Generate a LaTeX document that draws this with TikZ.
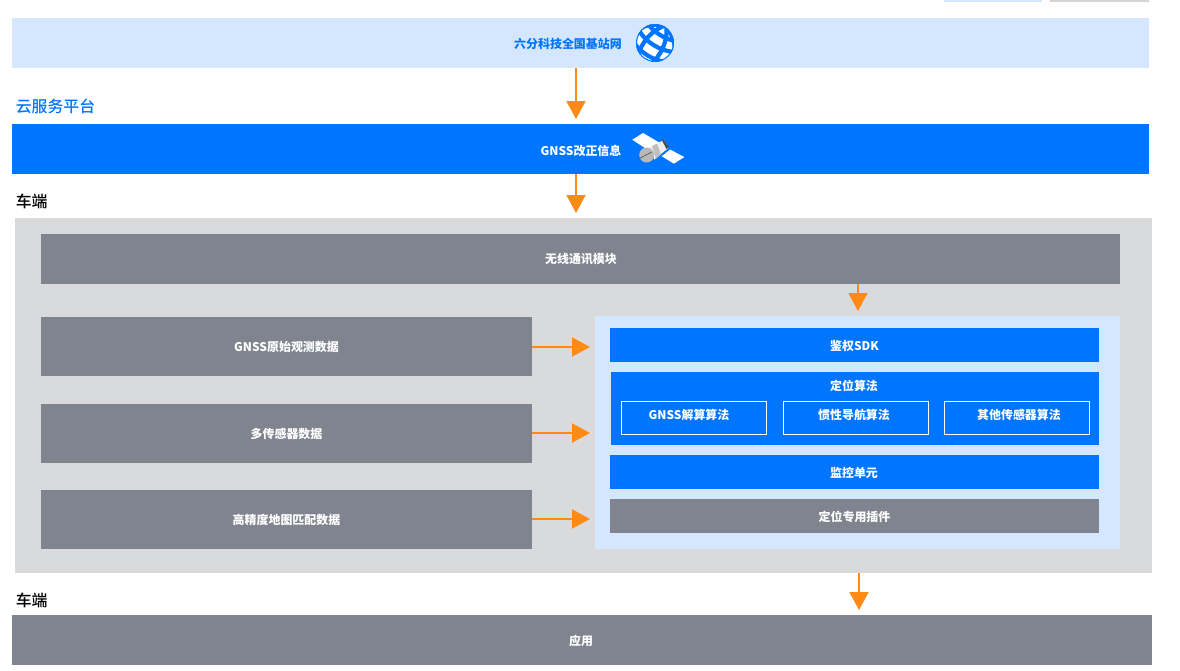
\documentclass[tikz,border=0pt]{standalone}
\usepackage{fontspec}
\setmainfont{Noto Sans CJK SC}
\newfontfamily\headfont{Noto Sans CJK SC Medium}
\usetikzlibrary{arrows.meta}

\definecolor{brandblue}{HTML}{0075FF}
\definecolor{paleblue}{HTML}{D5E7FF}
\definecolor{slategrey}{HTML}{80848E}
\definecolor{panelgrey}{HTML}{D9DADC}
\definecolor{flowline}{HTML}{FF8A14}

\tikzset{
	band/.style={rectangle,inner sep=0pt,text=white,font=\fontsize{8.5pt}{10pt}\selectfont\bfseries},
	boxsize/.style 2 args={minimum width=#1*0.7113pt,minimum height=#2*0.7113pt},
	caption/.style={inner sep=0pt,font=\fontsize{8.5pt}{10pt}\selectfont\bfseries},
	heading/.style={inner sep=0pt,anchor=west,font=\fontsize{11.3pt}{13pt}\headfont},
	subbox/.style={band,draw=white,line width=0.7pt,fill=brandblue,boxsize={145}{33}},
	flow/.style={draw=flowline,line width=1.4pt,-{Triangle[width=13.5pt,length=12.8pt,fill=flowline]}},
	gridline/.style={brandblue,line width=3pt},
}

\begin{document}
\begin{tikzpicture}[x=0.025cm,y=-0.025cm]
	\useasboundingbox (0,0) rectangle (1180,671);
	
	% cut-off boxes at the top edge
	\fill[paleblue] (944,0) rectangle (1042,2);
	\fill[black!17] (1050,0) rectangle (1149,2);
	
	% base stations
	\node[band,fill=paleblue,boxsize={1137}{50}] (net) at (580.5,43) {};
	\node[caption,text=brandblue] (netlabel) at (568,44) {六分科技全国基站网};
	\begin{scope}[shift={(655,43)},rotate=-32]
		\fill[white] (0,0) circle (19);
		\clip (0,0) circle (19);
		\draw[brandblue,line width=1.2pt] (0,0) circle (18.8);
		\draw[gridline] (0,-21) .. controls (-11,-8) and (-11,8) .. (-8,21);
		\draw[gridline] (0,-21) .. controls (11,-8) and (11,8) .. (8,21);
		\draw[gridline] (0,-21) .. controls (-27,-8) and (-27,8) .. (-21,21);
		\draw[gridline] (0,-21) .. controls (27,-8) and (27,8) .. (21,21);
		\draw[gridline] (-20,-14) .. controls (-8,-8) and (8,-8) .. (20,-14);
		\draw[gridline] (-20,-2) .. controls (-8,4) and (8,4) .. (20,-2);
		\draw[gridline] (-20,10) .. controls (-8,16) and (8,16) .. (20,10);
	\end{scope}
	
	% cloud platform
	\node[heading,text=brandblue] (cloudlabel) at (15.5,106) {云服务平台};
	\node[band,fill=brandblue,boxsize={1137}{50}] (gnss) at (580.5,149) {};
	\node[caption,text=white] (gnsslabel) at (581,150.5) {GNSS改正信息};
	
	% satellite
	\fill[white] (632.3,139.7)--(643,133)--(660,143)--(648,150)--cycle;
	\fill[white] (661.7,156.3)--(670,149.5)--(684.3,157)--(674,163.7)--cycle;
	\fill[black!6] (650,147.3)--(664.3,139.7)--(668.3,148)--(654.3,159.7)--cycle;
	\fill[black!70] (662,140.5)--(664,139.5)--(668.5,147)--(666.5,149)--cycle;
	\fill[black!25] (652,146)--(657,143.5)--(661,154.5)--(656,158.5)--cycle;
	\fill[black!28] (646.7,155) circle (7.5);
	\draw[black!65,line width=0.5pt] (639,158.7)--(651.7,152);
	
	% vehicle side
	\node[heading,text=black] (carlabel) at (15.5,201) {车端};
	\node[band,fill=panelgrey,boxsize={1137}{355}] (panel) at (583.5,395.5) {};
	\node[band,fill=slategrey,boxsize={1079}{50}] (radio) at (580.5,259) {};
	\node[caption,text=white] (radiolabel) at (581,259) {无线通讯模块};
	
	% input data
	\node[band,fill=slategrey,boxsize={491}{59}] (raw) at (286.5,346.5) {GNSS原始观测数据};
	\node[band,fill=slategrey,boxsize={491}{59}] (sensor) at (286.5,433.5) {多传感器数据};
	\node[band,fill=slategrey,boxsize={491}{59}] (hdmap) at (286.5,519.5) {高精度地图匹配数据};
	
	% positioning software
	\node[band,fill=paleblue,boxsize={525}{233}] (soft) at (857.5,432.5) {};
	\node[band,fill=brandblue,boxsize={489}{34}] (sdk) at (854.5,345) {};
	\node[caption,text=white] (sdklabel) at (854.5,345.5) {鉴权SDK};
	\node[band,fill=brandblue,boxsize={488}{73}] (algo) at (855,408.5) {};
	\node[caption,text=white] (algolabel) at (854,385.5) {定位算法};
	\node[subbox] (solver) at (694,418) {};
	\node[caption,text=white] (solverlabel) at (689,414.5) {GNSS解算算法};
	\node[subbox] (inertial) at (856,418) {};
	\node[caption,text=white] (inertiallabel) at (854,414.5) {惯性导航算法};
	\node[subbox] (other) at (1017,418) {};
	\node[caption,text=white] (otherlabel) at (1019,414.5) {其他传感器算法};
	\node[band,fill=brandblue,boxsize={489}{34}] (monitor) at (854.5,472) {};
	\node[caption,text=white] (monitorlabel) at (854,473) {监控单元};
	\node[band,fill=slategrey,boxsize={489}{34}] (plugin) at (854.5,516) {};
	\node[caption,text=white] (pluginlabel) at (854.5,517) {定位专用插件};
	
	% application
	\node[heading,text=black] (applabel) at (15.5,600) {车端};
	\node[band,fill=slategrey,boxsize={1140}{50}] (app) at (582,640) {};
	\node[caption,text=white] (applabeltext) at (581,641) {应用};
	
	% free ends of the arrows
	\coordinate (tipgnss) at (576,119);
	\coordinate (tipcar) at (576,213);
	\coordinate (tipsoft) at (858,311);
	\coordinate (tipraw) at (590,347);
	\coordinate (tipsensor) at (590,433);
	\coordinate (tipmap) at (590,519);
	\coordinate (tipapp) at (859,610);
	
	% arrows
	\draw[flow] (net.south -| tipgnss)--(tipgnss);
	\draw[flow] (gnss.south -| tipcar)--(tipcar);
	\draw[flow] (radio.south -| tipsoft)--(tipsoft);
	\draw[flow] (raw.east |- tipraw)--(tipraw);
	\draw[flow] (sensor.east |- tipsensor)--(tipsensor);
	\draw[flow] (hdmap.east |- tipmap)--(tipmap);
	\draw[flow] (panel.south -| tipapp)--(tipapp);
\end{tikzpicture}
\end{document}
